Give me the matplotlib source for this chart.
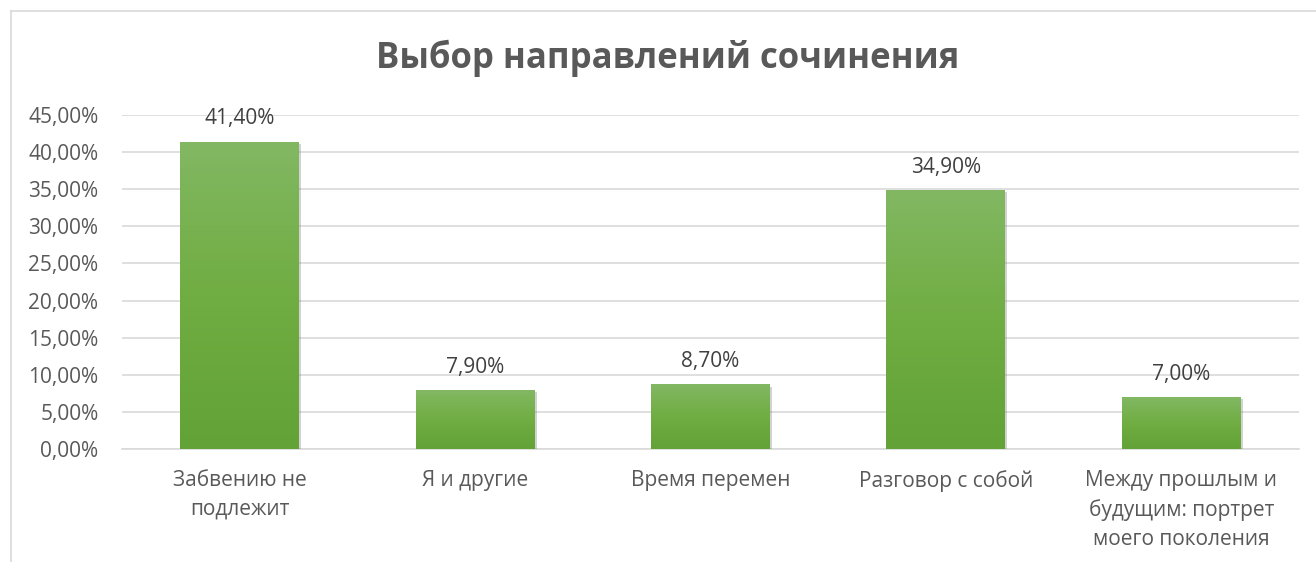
import matplotlib
matplotlib.use("Agg")
import matplotlib.pyplot as plt
import numpy as np
from matplotlib.colors import LinearSegmentedColormap
from matplotlib import patheffects as pe
from matplotlib.lines import Line2D

categories = ["Забвению не\nподлежит", "Я и другие", "Время перемен",
              "Разговор с собой", "Между прошлым и\nбудущим: портрет\nмоего поколения"]
values = [41.40, 7.90, 8.70, 34.90, 7.00]
yticks = [0, 5, 10, 15, 20, 25, 30, 35, 40, 45]
title = "Выбор направлений сочинения"

plt.rcParams['font.family'] = ['Open Sans', 'DejaVu Sans']
W, H = 1316, 562
fig = plt.figure(figsize=(W / 100, H / 100), dpi=100)
fig.patch.set_facecolor("white")

# chart border
bc = "#d9d9d9"
fig.add_artist(Line2D([10.5 / W, 10.5 / W], [0, 1 - 10.5 / H], transform=fig.transFigure, color=bc, lw=1.2))
fig.add_artist(Line2D([10.5 / W, 1], [1 - 10.5 / H, 1 - 10.5 / H], transform=fig.transFigure, color=bc, lw=1.2))

ax = fig.add_axes([122 / W, (H - 449) / H, (1299 - 122) / W, (449 - 115) / H])
x = np.arange(len(categories))
bars = ax.bar(x, values, width=0.505, color="#70ad47", zorder=3)
ax.set_xlim(-0.5, len(categories) - 0.5)
ax.set_ylim(0, 45)

cmap = LinearSegmentedColormap.from_list("g", ["#62a236", "#70ad42", "#82b863"])
grad = np.linspace(0, 1, 256).reshape(-1, 1)
for b in bars:
    b.set_path_effects([pe.SimplePatchShadow(offset=(1.5, -1.5), shadow_rgbFace="#7f7f7f", alpha=0.35), pe.Normal()])
    x0, w, h = b.get_x(), b.get_width(), b.get_height()
    im = ax.imshow(grad, cmap=cmap, origin="lower", extent=(x0, x0 + w, 0, h),
                   aspect="auto", zorder=4, interpolation="bicubic")
    im.set_clip_path(b)

fs = 15
ax.set_yticks(yticks)
ax.set_yticklabels([f"{v:.2f}%".replace(".", ",") for v in yticks])
ax.set_xticks(x)
ax.set_xticklabels(categories, linespacing=1.5)
ax.tick_params(axis="both", length=0, labelsize=fs, labelcolor="#595959")
ax.tick_params(axis="y", pad=17)
ax.tick_params(axis="x", pad=15)
ax.grid(axis="y", color="#d9d9d9", lw=1.2, zorder=0)
for s in ["top", "right", "left"]:
    ax.spines[s].set_visible(False)
ax.spines["bottom"].set_color("#d9d9d9")
ax.spines["bottom"].set_linewidth(1.2)
ax.set_autoscale_on(False)

for xi, v in zip(x, values):
    ax.annotate(f"{v:.2f}%".replace(".", ","), (xi, v), xytext=(0, 16.5), textcoords="offset points",
                ha="center", va="center", fontsize=fs, color="#404040", zorder=6)

fig.text(668 / W, 1 - 58.5 / H, title, ha="center", va="center", fontsize=25,
         fontweight="bold", color="#595959")

fig.savefig("out.png", dpi=100)
